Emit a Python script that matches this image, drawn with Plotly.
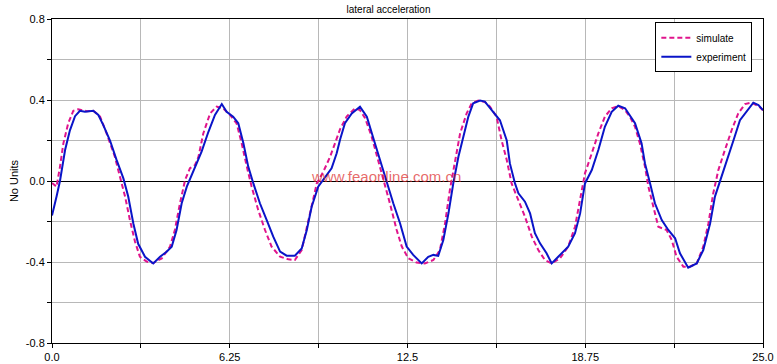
import plotly.graph_objects as go

# experiment (blue solid)
exp_t = [0.0, 0.02, 0.16, 0.28, 0.46, 0.63, 0.81, 0.98, 1.16, 1.45, 1.63, 1.80, 2.04, 2.27, 2.51, 2.68, 2.86, 3.03,
         3.27, 3.56, 3.80, 4.03, 4.21, 4.38, 4.56, 4.74, 4.97, 5.26, 5.50, 5.73, 5.97, 6.14, 6.37, 6.55, 6.73,
         6.90, 7.08, 7.31, 7.55, 7.78, 8.02, 8.25, 8.54, 8.78, 8.96, 9.13, 9.36, 9.60, 9.83, 10.01, 10.13, 10.30,
         10.54, 10.83, 11.07, 11.30, 11.53, 11.77, 12.00, 12.24, 12.47, 12.70, 13.00, 13.23, 13.41, 13.58, 13.76,
         13.94, 14.11, 14.29, 14.46, 14.64, 14.81, 15.05, 15.22, 15.46, 15.75, 15.99, 16.10, 16.28, 16.40, 16.63,
         16.81, 16.98, 17.16, 17.39, 17.57, 17.80, 18.15, 18.39, 18.57, 18.74, 18.98, 19.21, 19.44, 19.68, 19.91,
         20.15, 20.50, 20.73, 20.85, 21.03, 21.20, 21.44, 21.67, 21.91, 22.08, 22.37, 22.67, 22.90, 23.14, 23.31,
         23.49, 23.72, 23.96, 24.19, 24.43, 24.66, 24.84, 25.0]
exp_v = [-0.17, -0.16, -0.077, 0.0, 0.153, 0.25, 0.32, 0.347, 0.342, 0.347, 0.326, 0.277, 0.2, 0.104, 0.013, -0.077,
         -0.21, -0.31, -0.374, -0.407, -0.374, -0.349, -0.324, -0.242, -0.11, -0.028, 0.046, 0.145, 0.243, 0.326,
         0.38, 0.342, 0.318, 0.285, 0.186, 0.071, -0.012, -0.11, -0.193, -0.275, -0.349, -0.369, -0.369, -0.333,
         -0.242, -0.127, -0.028, 0.021, 0.063, 0.137, 0.205, 0.285, 0.334, 0.367, 0.318, 0.211, 0.104, 0.005,
         -0.11, -0.21, -0.324, -0.365, -0.407, -0.374, -0.365, -0.37, -0.291, -0.16, -0.012, 0.12, 0.219, 0.318,
         0.384, 0.397, 0.392, 0.35, 0.30, 0.2, 0.087, -0.012, -0.061, -0.102, -0.16, -0.258, -0.308, -0.357,
         -0.407, -0.374, -0.324, -0.258, -0.16, -0.012, 0.054, 0.153, 0.268, 0.342, 0.372, 0.359, 0.285, 0.186,
         0.087, -0.012, -0.11, -0.193, -0.242, -0.283, -0.357, -0.428, -0.407, -0.341, -0.21, -0.077, 0.0, 0.087,
         0.2, 0.30, 0.342, 0.387, 0.375, 0.35]

# simulate (magenta dashed)
sim_t = [0.0, 0.16, 0.28, 0.40, 0.57, 0.75, 0.92, 1.22, 1.45, 1.69, 1.92, 2.21, 2.39, 2.57, 2.74, 2.92, 3.09, 3.33,
         3.56, 3.86, 4.15, 4.32, 4.50, 4.68, 4.85, 5.03, 5.15, 5.32, 5.56, 5.79, 6.02, 6.26, 6.49, 6.67, 6.85,
         7.02, 7.25, 7.49, 7.72, 8.02, 8.31, 8.54, 8.78, 8.96, 9.13, 9.31, 9.54, 9.78, 9.95, 10.13, 10.36, 10.65,
         10.83, 11.01, 11.24, 11.47, 11.71, 11.88, 12.12, 12.30, 12.53, 12.82, 13.11, 13.41, 13.64, 13.82, 13.99,
         14.17, 14.35, 14.58, 14.76, 14.99, 15.22, 15.40, 15.63, 15.81, 15.99, 16.16, 16.40, 16.63, 16.87, 17.10,
         17.33, 17.57, 17.86, 18.15, 18.39, 18.57, 18.74, 18.98, 19.21, 19.44, 19.68, 19.91, 20.15, 20.32, 20.50,
         20.67, 20.85, 20.97, 21.14, 21.32, 21.61, 21.79, 21.96, 22.20, 22.43, 22.67, 22.90, 23.08, 23.25, 23.43,
         23.66, 23.90, 24.13, 24.37, 24.60, 24.84, 25.0]
sim_v = [-0.01, -0.028, 0.07, 0.186, 0.285, 0.347, 0.354, 0.345, 0.347, 0.318, 0.235, 0.12, 0.021, -0.077, -0.193,
         -0.3, -0.374, -0.398, -0.405, -0.382, -0.324, -0.242, -0.11, 0.005, 0.063, 0.079, 0.12, 0.235, 0.334,
         0.367, 0.359, 0.326, 0.285, 0.186, 0.071, -0.028, -0.143, -0.242, -0.324, -0.374, -0.387, -0.39, -0.341,
         -0.226, -0.11, -0.012, 0.046, 0.12, 0.186, 0.256, 0.318, 0.359, 0.35, 0.31, 0.219, 0.104, -0.012, -0.11,
         -0.242, -0.324, -0.382, -0.403, -0.407, -0.39, -0.341, -0.21, -0.044, 0.104, 0.235, 0.334, 0.384, 0.397,
         0.39, 0.367, 0.318, 0.2, 0.104, -0.012, -0.094, -0.176, -0.275, -0.341, -0.39, -0.407, -0.382, -0.324,
         -0.226, -0.094, 0.038, 0.137, 0.235, 0.318, 0.359, 0.37, 0.35, 0.318, 0.268, 0.186, 0.071, -0.028,
         -0.127, -0.226, -0.242, -0.291, -0.374, -0.423, -0.423, -0.407, -0.324, -0.21, -0.061, 0.054, 0.153,
         0.252, 0.334, 0.38, 0.387, 0.37, 0.35]

x_tickvals = [0, 3.125, 6.25, 9.375, 12.5, 15.625, 18.75, 21.875, 25]
x_ticktext = ["0.0", "", "6.25", "", "12.5", "", "18.75", "", "25.0"]
y_tickvals = [-0.8, -0.6, -0.4, -0.2, 0.0, 0.2, 0.4, 0.6, 0.8]
y_ticktext = ["-0.8", "", "-0.4", "", "0.0", "", "0.4", "", "0.8"]

fig = go.Figure()
fig.add_trace(go.Scatter(x=sim_t, y=sim_v, mode="lines", name="simulate",
                         line=dict(color="#e0148c", width=2, dash="5px,3px")))
fig.add_trace(go.Scatter(x=exp_t, y=exp_v, mode="lines", name="experiment",
                         line=dict(color="#0a14c8", width=2)))

fig.update_layout(
    width=777, height=364,
    margin=dict(l=52, r=14, t=19, b=21, autoexpand=False),
    paper_bgcolor="white", plot_bgcolor="white",
    font=dict(family="Liberation Sans, Arial, sans-serif", size=11, color="black"),
    title=dict(text="lateral acceleration", x=0.5, xanchor="center",
               y=1 - 9 / 364, yanchor="middle", font=dict(size=10), automargin=False),
    showlegend=True,
    legend=dict(x=0.985, xanchor="right", y=0.99, yanchor="top",
                bordercolor="black", borderwidth=1, bgcolor="white",
                font=dict(size=10), tracegroupgap=0, itemwidth=30),
    xaxis=dict(range=[0, 25], tickvals=x_tickvals, ticktext=x_ticktext, automargin=False,
               showgrid=True, gridcolor="#b8b8b8", gridwidth=1,
               showline=True, linecolor="black", linewidth=1, mirror=True,
               ticks="outside", ticklen=4, tickcolor="black", zeroline=False),
    yaxis=dict(range=[-0.8, 0.8], tickvals=y_tickvals, ticktext=y_ticktext, automargin=False,
               showgrid=True, gridcolor="#b8b8b8", gridwidth=1,
               showline=True, linecolor="black", linewidth=1, mirror=True,
               ticks="outside", ticklen=4, tickcolor="black",
               zeroline=True, zerolinecolor="black", zerolinewidth=1,
               title=dict(text="No Units", standoff=4, font=dict(size=11))),
)

fig.add_annotation(text="www.feaonline.com.cn", xref="paper", yref="paper",
                   x=(386 - 52) / 711, y=(343 - 177) / 324, showarrow=False,
                   font=dict(size=15, color="rgba(220,40,40,0.7)"))

fig.write_html("out.html", config={"displayModeBar": False},
               post_script="document.body.style.margin='0';document.body.style.overflow='hidden';")
